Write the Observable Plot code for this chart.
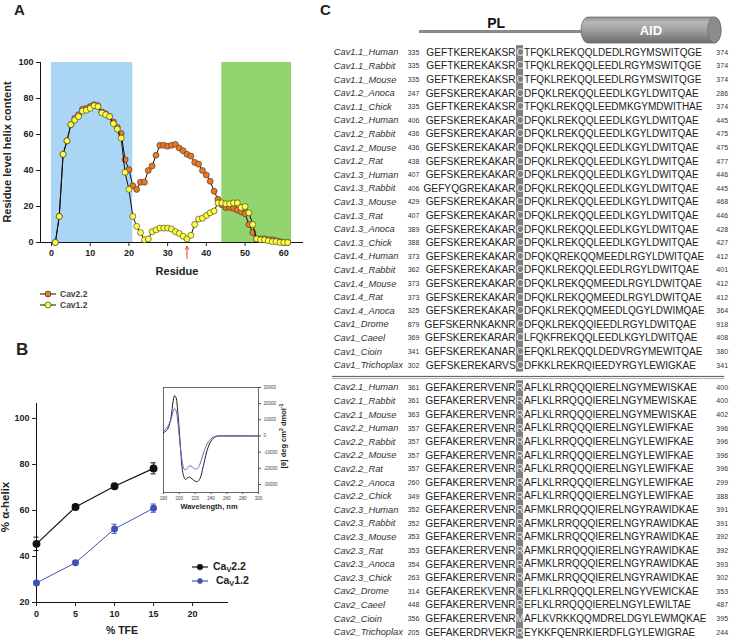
<!DOCTYPE html>
<html><head><meta charset="utf-8">
<script src="https://cdn.jsdelivr.net/npm/d3@7"></script>
<script src="https://cdn.jsdelivr.net/npm/@observablehq/plot@0.6"></script>
<style>
body{margin:0;background:#fff;font-family:"Liberation Sans",Arial,sans-serif;}
#root{position:relative;width:733px;height:640px;overflow:hidden;background:#fff;}
.box{position:absolute;}
.lbl{position:absolute;font-weight:bold;white-space:nowrap;color:#222;line-height:1;}
.rot{transform:translate(-50%,-50%) rotate(-90deg);}
.ctr{transform:translate(-50%,-50%);}
.leg{position:absolute;display:flex;align-items:center;font-weight:bold;white-space:nowrap;line-height:1;}
.leg sub{font-size:70%;vertical-align:-2px;}
svg text{font-family:"Liberation Sans",Arial,sans-serif;}
</style></head>
<body><div id="root"></div>
<script>
// ---------- Panel A data ----------
const residues = [1,2,3,4,5,6,7,8,9,10,11,12,13,14,15,16,17,18,19,20,21,22,23,24,25,26,27,28,29,30,31,32,33,34,35,36,37,38,39,40,41,42,43,44,45,46,47,48,49,50,51,52,53,54,55,56,57,58,59,60,61];
const helixCav22 = [0,14.5,49,56.5,65.5,69,71,74,74.5,75.5,76.5,76,72.5,71.5,70,67,64,60.5,46,40.5,31.5,29.5,33.5,33.5,40,42.5,48.5,54,54,53.5,54,54.5,52.5,51,49,48,44.5,43.5,40,37.5,34,28.5,24,21,19.5,19.5,19,18,17,16,10,5.5,2,2,2,1.5,1.5,1,0.5,0,0];
const helixCav12 = [0,14.5,49,56.5,65.5,68,70,73,73.5,74.5,76,75.5,72,71,70,66,63,58,39,29.5,14.5,9,5.5,1.5,2,6,7,8,8,8,7.5,6,5,3.5,2,4,10,13,13.5,15,16.5,17.5,22,22,21.5,21.5,22,22,19.5,20,16.5,10,2,1.5,1.5,1,0.5,0.5,0,0,0];
const regionStart = [0, 44];
const regionEnd = [21, 62];
const regionColor = ["#abd5f4", "#93d470"];
const arrowResidue = [35];
const xTicksA = [0,10,20,30,40,50,60];
const yTicksA = [0,20,40,60,80,100];

// ---------- Panel B data ----------
const tfe = [0,5,10,15];
const helixB22 = [45.5,61.5,70.5,78.3];
const errB22 = [2.9,1.0,0.8,2.4];
const helixB12 = [28.5,37.3,52,61];
const errB12 = [0.8,0.8,2.0,1.8];
const xTicksB = [0,5,10,15,20];
const yTicksB = [20,40,60,80,100];

// ---------- Inset (CD spectra) ----------
const wavelength = [180,185,188,190,192,194,196,198,200,202,204,206,208,210,213,216,220,223,226,229,232,235,238,241,245,250,260,270,280,290,300];
const cdCav22 = [2000,4000,8000,13000,21000,25000,23500,15000,3000,-11000,-21500,-25500,-27000,-26000,-25500,-26500,-28000,-28200,-26500,-21500,-15000,-9000,-5000,-2500,-600,0,0,0,0,0,0];
const cdCav12 = [3000,5500,8500,11000,15000,17000,15500,9000,-1000,-10000,-17000,-20500,-21000,-20000,-18500,-19000,-20500,-20000,-17500,-13000,-8500,-5000,-2800,-1300,-300,0,0,0,0,0,0];
const xTicksIn = [180,200,220,240,260,280,300];
const yTicksIn = [-30000,-20000,-10000,0,10000,20000,30000];

// ---------- Panel C data ----------
const cav1Names = ["Cav1.1_Human","Cav1.1_Rabbit","Cav1.1_Mouse","Cav1.2_Anoca","Cav1.1_Chick","Cav1.2_Human","Cav1.2_Rabbit","Cav1.2_Mouse","Cav1.2_Rat","Cav1.3_Human","Cav1.3_Rabbit","Cav1.3_Mouse","Cav1.3_Rat","Cav1.3_Anoca","Cav1.3_Chick","Cav1.4_Human","Cav1.4_Rabbit","Cav1.4_Mouse","Cav1.4_Rat","Cav1.4_Anoca","Cav1_Drome","Cav1_Caeel","Cav1_Cioin","Cav1_Trichoplax"];
const cav1Start = [335,335,335,247,335,406,436,436,438,407,406,429,407,389,388,373,362,373,373,325,879,369,341,302];
const cav1End = [374,374,374,286,374,445,475,475,477,446,445,468,446,428,427,412,401,412,412,364,918,408,380,341];
const cav1Seq = [
"GEFTKEREKAKSRCTFQKLREKQQLDEDLRGYMSWITQGE",
"GEFTKEREKAKSRCTFQKLREKQQLEEDLRGYMSWITQGE",
"GEFTKEREKAKSRCTFQKLREKQQLEEDLRGYMSWITQGE",
"GEFSKEREKAKARCDFQKLREKQQLEEDLKGYLDWITQAE",
"GEFTKEREKAKSRCTFQKLREKQQLEEDMKGYMDWITHAE",
"GEFSKEREKAKARCDFQKLREKQQLEEDLKGYLDWITQAE",
"GEFSKEREKAKARCDFQKLREKQQLEEDLKGYLDWITQAE",
"GEFSKEREKAKARCDFQKLREKQQLEEDLKGYLDWITQAE",
"GEFSKEREKAKARCDFQKLREKQQLEEDLKGYLDWITQAE",
"GEFSKEREKAKARCDFQKLREKQQLEEDLKGYLDWITQAE",
"GEFYQGREKAKARCDFQKLREKQQLEEDLKGYLDWITQAE",
"GEFSKEREKAKARCDFQKLREKQQLEEDLKGYLDWITQAE",
"GEFSKEREKAKARCDFQKLREKQQLEEDLKGYLDWITQAE",
"GEFSKEREKAKARCDFQKLREKQQLEEDLKGYLDWITQAE",
"GEFSKEREKAKARCDFQKLREKQQLEEDLKGYLDWITQAE",
"GEFSKEREKAKARCDFQKQREKQQMEEDLRGYLDWITQAE",
"GEFSKEREKAKARCDFQKLREKQQLEEDLRGYLDWITQAE",
"GEFSKEREKAKARCDFQKLREKQQMEEDLRGYLDWITQAE",
"GEFSKEREKAKARCDFQKLREKQQMEEDLRGYLDWITQAE",
"GEFSKEREKAKARCDFQKLREKQQMEEDLQGYLDWIMQAE",
"GEFSKERNKAKNRCDFQKLREKQQIEEDLRGYLDWITQAE",
"GEFSKEREKARARCLFQKFREKQQLEEDLKGYLDWITQAE",
"GEFSKEREKANARCEFQKLREKQQLDEDVRGYMEWITQAE",
"GEFSKEREKARVSCDFKKLREKRQIEEDYRGYLEWIGKAE"];
const cav2Names = ["Cav2.1_Human","Cav2.1_Rabbit","Cav2.1_Mouse","Cav2.2_Human","Cav2.2_Rabbit","Cav2.2_Mouse","Cav2.2_Rat","Cav2.2_Anoca","Cav2.2_Chick","Cav2.3_Human","Cav2.3_Rabbit","Cav2.3_Mouse","Cav2.3_Rat","Cav2.3_Anoca","Cav2.3_Chick","Cav2_Drome","Cav2_Caeel","Cav2_Cioin","Cav2_Trichoplax"];
const cav2Start = [361,361,363,357,357,357,357,260,349,352,352,353,353,354,263,314,448,356,205];
const cav2End = [400,400,402,396,396,396,396,299,388,391,391,392,392,393,302,353,487,395,244];
const cav2Seq = [
"GEFAKERERVENRRAFLKLRRQQQIERELNGYMEWISKAE",
"GEFAKERERVENRRAFLKLRRQQQIERELNGYMEWISKAE",
"GEFAKERERVENRRAFLKLRRQQQIERELNGYMEWISKAE",
"GEFAKERERVENRRAFLKLRRQQQIERELNGYLEWIFKAE",
"GEFAKERERVENRRAFLKLRRQQQIERELNGYLEWIFKAE",
"GEFAKERERVENRRAFLKLRRQQQIERELNGYLEWIFKAE",
"GEFAKERERVENRRAFLKLRRQQQIERELNGYLEWIFKAE",
"GEFAKERERVENRRAFLKLRRQQQIERELNGYLEWIFKAE",
"GEFAKERERVENRRAFLKLRRQQQIERELNGYLEWIFKAE",
"GEFAKERERVENRRAFMKLRRQQQIERELNGYRAWIDKAE",
"GEFAKERERVENRRAFMKLRRQQQIERELNGYRAWIDKAE",
"GEFAKERERVENRRAFMKLRRQQQIERELNGYRAWIDKAE",
"GEFAKERERVENRRAFMKLRRQQQIERELNGYRAWIDKAE",
"GEFAKERERVENRRAFMKLRRQQQIERELNGYRAWIDKAE",
"GEFAKERERVENRRAFMKLRRQQQIERELNGYRAWIDKAE",
"GEFAKEREKVENRQEFLKLRRQQQLERELNGYVEWICKAE",
"GEFAKERERVENRREFLKLRRQQQIERELNGYLEWILTAE",
"GEFAKERERVENRMAFLKVRKKQQMDRELDGYLEWMQKAE",
"GEFAKERDRVEKRREYKKFQENRKIERDFLGYLEWIGRAE"];
const hlIndex = 13;          // highlighted alignment column
const domainLabels = ["PL", "AID"];

// ---------- helpers ----------
const root = document.getElementById("root");
function place(node, left, top) {
  const d = document.createElement("div");
  d.className = "box"; d.style.left = left + "px"; d.style.top = top + "px";
  d.appendChild(node); root.appendChild(d); return d;
}
function label(text, x, y, size, cls, extra) {
  const d = document.createElement("div");
  d.className = "lbl " + (cls || "");
  d.style.left = x + "px"; d.style.top = y + "px"; d.style.fontSize = size + "px";
  if (extra) Object.assign(d.style, extra);
  d.innerHTML = text; root.appendChild(d); return d;
}
function legend(x, y, stroke, fill, r, html, size, color, gap) {
  const d = document.createElement("div");
  d.className = "leg"; d.style.left = x + "px"; d.style.top = y + "px";
  d.style.fontSize = size + "px"; d.style.color = color;
  d.innerHTML = `<svg width="16" height="10" style="margin-right:${gap}px"><line x1="0" y1="5" x2="16" y2="5" stroke="${stroke}" stroke-width="1.2"/><circle cx="8" cy="5" r="${r}" fill="${fill}" stroke="${stroke}" stroke-width="0.7"/></svg><span>${html}</span>`;
  root.appendChild(d);
}

// ---------- Panel A ----------
const dataA22 = residues.map((r,i)=>({res:r, v:helixCav22[i]}));
const dataA12 = residues.map((r,i)=>({res:r, v:helixCav12[i]}));
const regions = regionStart.map((s,i)=>({s, e:regionEnd[i], c:regionColor[i]}));
const xDomA = [-2.84, 65.1];
const plotA = Plot.plot({
  width: 330, height: 310,
  marginLeft: 40, marginRight: 27, marginTop: 62, marginBottom: 68,
  style: {fontSize: "9px", fontWeight: "bold", color: "#222", background: "transparent", fontFamily: "Liberation Sans"},
  x: {domain: xDomA, ticks: xTicksA, tickSize: 4, tickPadding: 3, label: null},
  y: {domain: [0,100], ticks: yTicksA, tickSize: 4, tickPadding: 3, label: null},
  color: {type: "identity"},
  marks: [
    Plot.rect(regions, {x1: "s", x2: "e", y1: 0, y2: 100, fill: "c"}),
    Plot.ruleY([0], {x1: xDomA[0], x2: xDomA[1], stroke: "#111"}),
    Plot.ruleX([xDomA[0]], {y1: 0, y2: 100, stroke: "#111"}),
    Plot.line(dataA22, {x: "res", y: "v", stroke: "#111", strokeWidth: 1}),
    Plot.dot(dataA22, {x: "res", y: "v", r: 3, fill: "#ee7722", stroke: "#333", strokeWidth: 0.6}),
    Plot.line(dataA12, {x: "res", y: "v", stroke: "#111", strokeWidth: 1}),
    Plot.dot(dataA12, {x: "res", y: "v", r: 3, fill: "#ffff3c", stroke: "#333", strokeWidth: 0.6}),
    Plot.arrow(arrowResidue, {x1: d=>d, x2: d=>d, y1: -9, y2: -2.2, stroke: "#e8383d", strokeWidth: 1, headLength: 5})
  ]
});
place(plotA, 0, 0);
label("Residue", 177, 271, 11, "ctr");
label("Residue level helix content", 7, 152, 11, "rot");
legend(40, 289, "#333", "#ee7722", 3, "Cav2.2", 8.5, "#444", 4);
legend(40, 300, "#333", "#ffff3c", 3, "Cav1.2", 8.5, "#444", 4);
label("A", 14, 2, 15);

// ---------- Panel B ----------
const dataB22 = tfe.map((t,i)=>({t, v:helixB22[i], e:errB22[i]}));
const dataB12 = tfe.map((t,i)=>({t, v:helixB12[i], e:errB12[i]}));
const xDomB = [0, 24.6], yDomB = [20, 106.5];
const capHalf = 0.33;
const plotB = Plot.plot({
  width: 330, height: 330,
  marginLeft: 36, marginRight: 102, marginTop: 93, marginBottom: 38,
  style: {fontSize: "9px", fontWeight: "bold", color: "#222", background: "transparent", fontFamily: "Liberation Sans"},
  x: {domain: xDomB, ticks: xTicksB, tickSize: 4, tickPadding: 4, label: null},
  y: {domain: yDomB, ticks: yTicksB, tickSize: 4, tickPadding: 3, label: null},
  marks: [
    Plot.ruleY([yDomB[0]], {x1: xDomB[0], x2: xDomB[1], stroke: "#111"}),
    Plot.ruleX([xDomB[0]], {y1: yDomB[0], y2: yDomB[1], stroke: "#111"}),
    // Cav1.2 (blue)
    Plot.ruleX(dataB12, {x: "t", y1: d=>d.v-d.e, y2: d=>d.v+d.e, stroke: "#4a5cc0", strokeWidth: 1}),
    Plot.ruleY(dataB12, {y: d=>d.v+d.e, x1: d=>d.t-capHalf, x2: d=>d.t+capHalf, stroke: "#4a5cc0"}),
    Plot.ruleY(dataB12, {y: d=>d.v-d.e, x1: d=>d.t-capHalf, x2: d=>d.t+capHalf, stroke: "#4a5cc0"}),
    Plot.line(dataB12, {x: "t", y: "v", stroke: "#3e51b5", strokeWidth: 1}),
    Plot.dot(dataB12, {x: "t", y: "v", r: 2.7, fill: "#3e51b5", stroke: "#3e51b5"}),
    // Cav2.2 (black)
    Plot.ruleX(dataB22, {x: "t", y1: d=>d.v-d.e, y2: d=>d.v+d.e, stroke: "#111", strokeWidth: 1}),
    Plot.ruleY(dataB22, {y: d=>d.v+d.e, x1: d=>d.t-capHalf, x2: d=>d.t+capHalf, stroke: "#111"}),
    Plot.ruleY(dataB22, {y: d=>d.v-d.e, x1: d=>d.t-capHalf, x2: d=>d.t+capHalf, stroke: "#111"}),
    Plot.line(dataB22, {x: "t", y: "v", stroke: "#111", strokeWidth: 1.2}),
    Plot.dot(dataB22, {x: "t", y: "v", r: 3.2, fill: "#111", stroke: "#111"})
  ]
});
place(plotB, 0, 310);
label("% TFE", 122, 630, 10.5, "ctr");
label("% &alpha;-helix", 6, 507, 11.5, "rot");
legend(192, 561, "#111", "#111", 2.8, "Ca<sub>V</sub>2.2", 10.5, "#222", 5);
legend(192, 575, "#3e51b5", "#3e51b5", 2.5, "&nbsp;Ca<sub>V</sub>1.2", 10.5, "#222", 5);
label("B", 16, 341, 17);

// ---------- Inset ----------
const cd22 = wavelength.map((w,i)=>({w, v:cdCav22[i]}));
const cd12 = wavelength.map((w,i)=>({w, v:cdCav12[i]}));
const plotIn = Plot.plot({
  width: 145, height: 135,
  marginLeft: 13, marginRight: 37, marginTop: 7, marginBottom: 23,
  style: {fontSize: "4.5px", color: "#444", background: "transparent", fontFamily: "Liberation Sans"},
  x: {domain: [180, 300], ticks: xTicksIn, tickSize: 2, tickPadding: 2, label: null},
  y: {domain: [-35000, 30000], ticks: yTicksIn, tickSize: 2, tickPadding: 3, label: null, axis: "right", tickFormat: d => String(d)},
  marks: [
    Plot.frame({stroke: "#666", strokeWidth: 1}),
    Plot.line(cd22, {x: "w", y: "v", stroke: "#222", strokeWidth: 1, curve: "catmull-rom"}),
    Plot.line(cd12, {x: "w", y: "v", stroke: "#5b6cc4", strokeWidth: 1, curve: "catmull-rom"})
  ]
});
place(plotIn, 150, 380);
label("Wavelength, nm", 209, 507, 7.5, "ctr");
label("[&theta;] deg cm<sup style='font-size:70%'>2</sup> dmol<sup style='font-size:70%'>-1</sup>", 283, 436, 7.5, "rot");

// ---------- Panel C ----------
const nG1 = cav1Names.length;
const gap = 0.63;
const rowsC = [
  ...cav1Names.map((n,i)=>({name:n, start:cav1Start[i], end:cav1End[i], seq:cav1Seq[i], pos:i})),
  ...cav2Names.map((n,j)=>({name:n, start:cav2Start[j], end:cav2End[j], seq:cav2Seq[j], pos:nG1+gap+j}))
];
rowsC.forEach(d => { d.pre = d.seq.slice(0, hlIndex); d.mid = d.seq[hlIndex]; d.post = d.seq.slice(hlIndex+1); });
const lastPos = rowsC[rowsC.length-1].pos;
const hlBands = [
  {y1: -0.5, y2: nG1 - 0.5},
  {y1: nG1 + gap - 0.5, y2: lastPos + 0.5}
];
const sepY = nG1 - 0.5 + gap / 2;
const nameCol = -13.1, startCol = -2.55, endCol = 41.55;
const hdrY = -1.54, cylTop = -2.57, cylBot = -0.66;
const plLeft = -0.86, cylLeft = 22.29, cylRight = 42.29;
const domainText = [
  {t: domainLabels[0], x: 10.1, y: -2.15, fill: "#111", size: 14},
  {t: domainLabels[1], x: 32.2, y: -1.62, fill: "#fff", size: 13}
];
const plotC = Plot.plot({
  width: 403, height: 640, margin: 0,
  style: {background: "transparent", fontFamily: "Liberation Sans", color: "#222"},
  x: {domain: [0, 40], range: [95, 375], axis: null},
  y: {domain: [0, lastPos], range: [52, 631.8], axis: null},
  marks: [
    Plot.ruleY([hdrY], {x1: plLeft, x2: cylLeft + 0.5, stroke: "#8a8a8a", strokeWidth: 3}),
    Plot.rect([0], {x1: cylLeft, x2: cylRight, y1: cylTop, y2: cylBot, rx: 7, ry: 13, fill: "url(#aidGrad)", stroke: "#6e6e6e", strokeWidth: 0.8}),
    Plot.rect([0], {x1: cylRight - 1.9, x2: cylRight, y1: cylTop, y2: cylBot, rx: 6.5, ry: 13, fill: "#8c8c8c", stroke: "#6e6e6e", strokeWidth: 0.8}),
    Plot.text(domainText, {x: "x", y: "y", text: "t", fill: "fill", fontSize: "size", fontWeight: "bold"}),
    Plot.rect(hlBands, {x1: hlIndex, x2: hlIndex + 1, y1: "y1", y2: "y2", fill: "#7f7f7f"}),
    Plot.ruleY([sepY], {x1: nameCol - 0.2, x2: endCol + 1.2, stroke: "#555", strokeWidth: 1}),
    Plot.ruleY([sepY], {x1: nameCol - 0.2, x2: endCol + 1.2, stroke: "#aaa", strokeWidth: 1, dy: 2}),
    Plot.text(rowsC, {x: () => nameCol, y: "pos", text: "name", textAnchor: "start", fontStyle: "italic", fontSize: 9.3, fill: "#333"}),
    Plot.text(rowsC, {x: () => startCol, y: "pos", text: d => String(d.start), textAnchor: "start", fontSize: 7, fontFamily: "Liberation Serif", fill: "#333"}),
    Plot.text(rowsC, {x: () => hlIndex, y: "pos", text: "pre", textAnchor: "end", dx: -0.8, fontSize: 10.2, fill: "#222"}),
    Plot.text(rowsC, {x: () => hlIndex + 0.5, y: "pos", text: "mid", textAnchor: "middle", fontSize: 10.2, fill: "#e6e6e6"}),
    Plot.text(rowsC, {x: () => hlIndex + 1, y: "pos", text: "post", textAnchor: "start", dx: 0.6, fontSize: 10, fill: "#222"}),
    Plot.text(rowsC, {x: () => endCol, y: "pos", text: d => String(d.end), textAnchor: "start", fontSize: 7, fontFamily: "Liberation Serif", fill: "#333"})
  ],
  color: {type: "identity"}
});
const defs = d3.select(plotC).insert("defs", ":first-child");
const grad = defs.append("linearGradient").attr("id", "aidGrad").attr("x1", 0).attr("y1", 0).attr("x2", 0).attr("y2", 1);
[[0,"#8e8e8e"],[0.2,"#b8b8b8"],[0.45,"#a4a4a4"],[1,"#6c6c6c"]].forEach(([o,c]) => grad.append("stop").attr("offset", o).attr("stop-color", c));
place(plotC, 330, 0);
label("C", 320, 2, 15);
</script>
</body></html>
